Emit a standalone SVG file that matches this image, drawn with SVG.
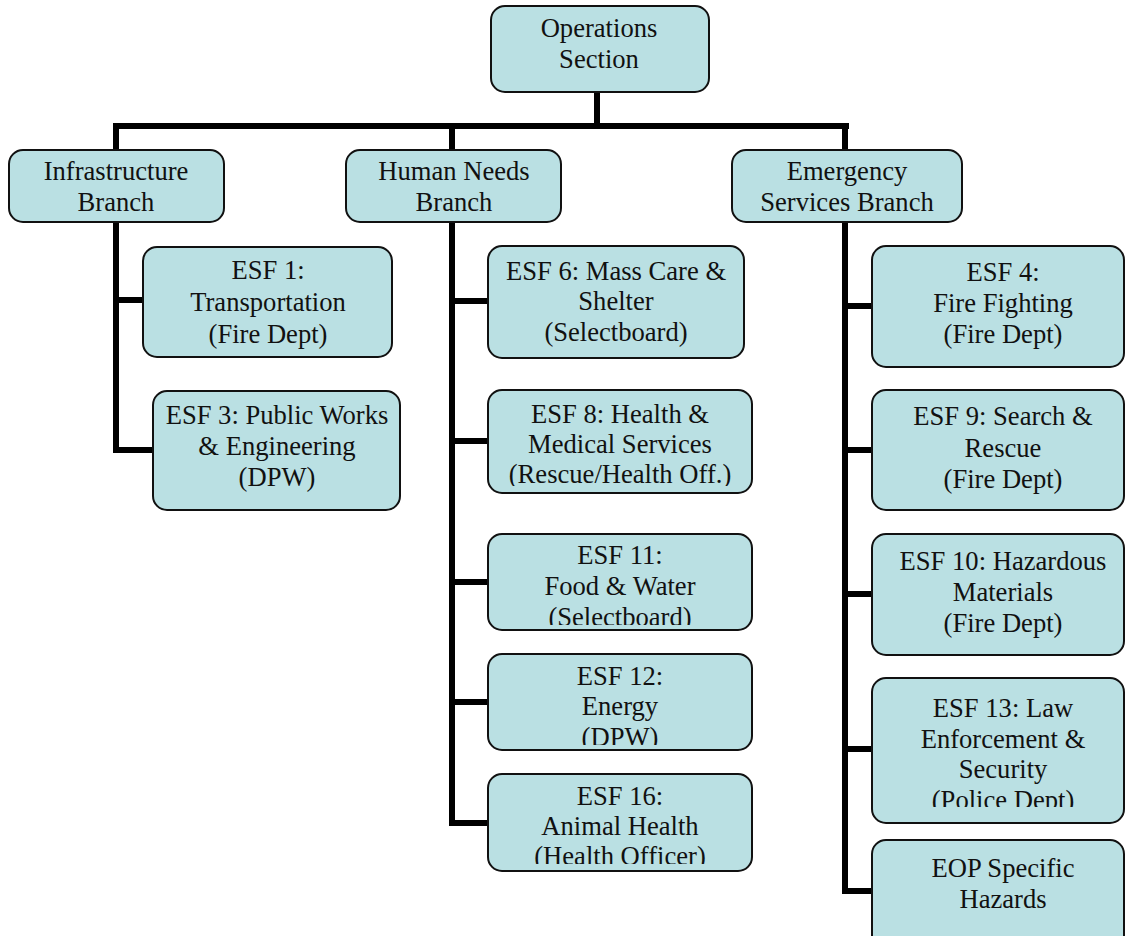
<svg xmlns="http://www.w3.org/2000/svg" width="1126" height="936" viewBox="0 0 1126 936">
<style>
.box{fill:#bae0e3;stroke:#111;stroke-width:2}
.t{font-family:"Liberation Serif","Times New Roman",serif;font-size:26.6px;fill:#111;text-anchor:middle}
.c{fill:none;stroke:#000;stroke-width:6;stroke-linejoin:miter;stroke-linecap:square}
</style>
<defs>
<clipPath id="k8"><rect x="488" y="390" width="264" height="96"/></clipPath>
<clipPath id="k11"><rect x="488" y="534" width="264" height="91"/></clipPath>
<clipPath id="k12"><rect x="488" y="654" width="264" height="91"/></clipPath>
<clipPath id="k16"><rect x="488" y="774" width="264" height="90"/></clipPath>
<clipPath id="k13"><rect x="872" y="678" width="252" height="129"/></clipPath>
</defs>
<rect width="1126" height="936" fill="#fff"/>
<g id="connectors">
<path class="c" d="M597 92V126"/>
<path class="c" d="M116 126H846"/>
<path class="c" d="M116 126V450H153M116 300H143"/>
<path class="c" d="M452 126V823H488M452 301H488M452 441H488M452 582H488M452 702H488"/>
<path class="c" d="M845 126V891H872M845 306H872M845 450H872M845 594H872M845 749H872"/>
</g>
<g id="ops"><rect class="box" x="491" y="6" width="218" height="86" rx="14"/>
<text class="t" x="599" y="37">Operations</text><text class="t" x="599" y="68">Section</text></g>
<g id="infra"><rect class="box" x="9" y="150" width="215" height="72" rx="14"/>
<text class="t" x="116" y="180">Infrastructure</text><text class="t" x="116" y="211">Branch</text></g>
<g id="human"><rect class="box" x="346" y="150" width="215" height="72" rx="14"/>
<text class="t" x="454" y="180">Human Needs</text><text class="t" x="454" y="211">Branch</text></g>
<g id="emergency"><rect class="box" x="732" y="150" width="230" height="72" rx="14"/>
<text class="t" x="847" y="180">Emergency</text><text class="t" x="847" y="211">Services Branch</text></g>
<g id="esf1"><rect class="box" x="143" y="247" width="249" height="110" rx="14"/>
<text class="t" x="268" y="279">ESF 1:</text><text class="t" x="268" y="311">Transportation</text><text class="t" x="268" y="343">(Fire Dept)</text></g>
<g id="esf3"><rect class="box" x="153" y="391" width="247" height="119" rx="14"/>
<text class="t" x="277" y="424">ESF 3: Public Works</text><text class="t" x="277" y="455">&amp; Engineering</text><text class="t" x="277" y="486">(DPW)</text></g>
<g id="esf6"><rect class="box" x="488" y="246" width="256" height="112" rx="14"/>
<text class="t" x="616" y="280">ESF 6: Mass Care &amp;</text><text class="t" x="616" y="310">Shelter</text><text class="t" x="616" y="341">(Selectboard)</text></g>
<g id="esf8"><rect class="box" x="488" y="390" width="264" height="103" rx="14"/>
<g clip-path="url(#k8)"><text class="t" x="620" y="423">ESF 8: Health &amp;</text><text class="t" x="620" y="453">Medical Services</text><text class="t" x="620" y="483">(Rescue/Health Off.)</text></g></g>
<g id="esf11"><rect class="box" x="488" y="534" width="264" height="96" rx="14"/>
<g clip-path="url(#k11)"><text class="t" x="620" y="564">ESF 11:</text><text class="t" x="620" y="595">Food &amp; Water</text><text class="t" x="620" y="626">(Selectboard)</text></g></g>
<g id="esf12"><rect class="box" x="488" y="654" width="264" height="96" rx="14"/>
<g clip-path="url(#k12)"><text class="t" x="620" y="685">ESF 12:</text><text class="t" x="620" y="715">Energy</text><text class="t" x="620" y="746">(DPW)</text></g></g>
<g id="esf16"><rect class="box" x="488" y="774" width="264" height="97" rx="14"/>
<g clip-path="url(#k16)"><text class="t" x="620" y="805">ESF 16:</text><text class="t" x="620" y="835">Animal Health</text><text class="t" x="620" y="865">(Health Officer)</text></g></g>
<g id="esf4"><rect class="box" x="872" y="246" width="252" height="121" rx="14"/>
<text class="t" x="1003" y="281">ESF 4:</text><text class="t" x="1003" y="312">Fire Fighting</text><text class="t" x="1003" y="343">(Fire Dept)</text></g>
<g id="esf9"><rect class="box" x="872" y="390" width="252" height="120" rx="14"/>
<text class="t" x="1003" y="425">ESF 9: Search &amp;</text><text class="t" x="1003" y="457">Rescue</text><text class="t" x="1003" y="488">(Fire Dept)</text></g>
<g id="esf10"><rect class="box" x="872" y="534" width="252" height="121" rx="14"/>
<text class="t" x="1003" y="570">ESF 10: Hazardous</text><text class="t" x="1003" y="601">Materials</text><text class="t" x="1003" y="632">(Fire Dept)</text></g>
<g id="esf13"><rect class="box" x="872" y="678" width="252" height="145" rx="14"/>
<g clip-path="url(#k13)"><text class="t" x="1003" y="717">ESF 13: Law</text><text class="t" x="1003" y="748">Enforcement &amp;</text><text class="t" x="1003" y="778">Security</text><text class="t" x="1003" y="809">(Police Dept)</text></g></g>
<g id="eop"><rect class="box" x="872" y="840" width="252" height="110" rx="14"/>
<text class="t" x="1003" y="877">EOP Specific</text><text class="t" x="1003" y="908">Hazards</text></g>
</svg>
